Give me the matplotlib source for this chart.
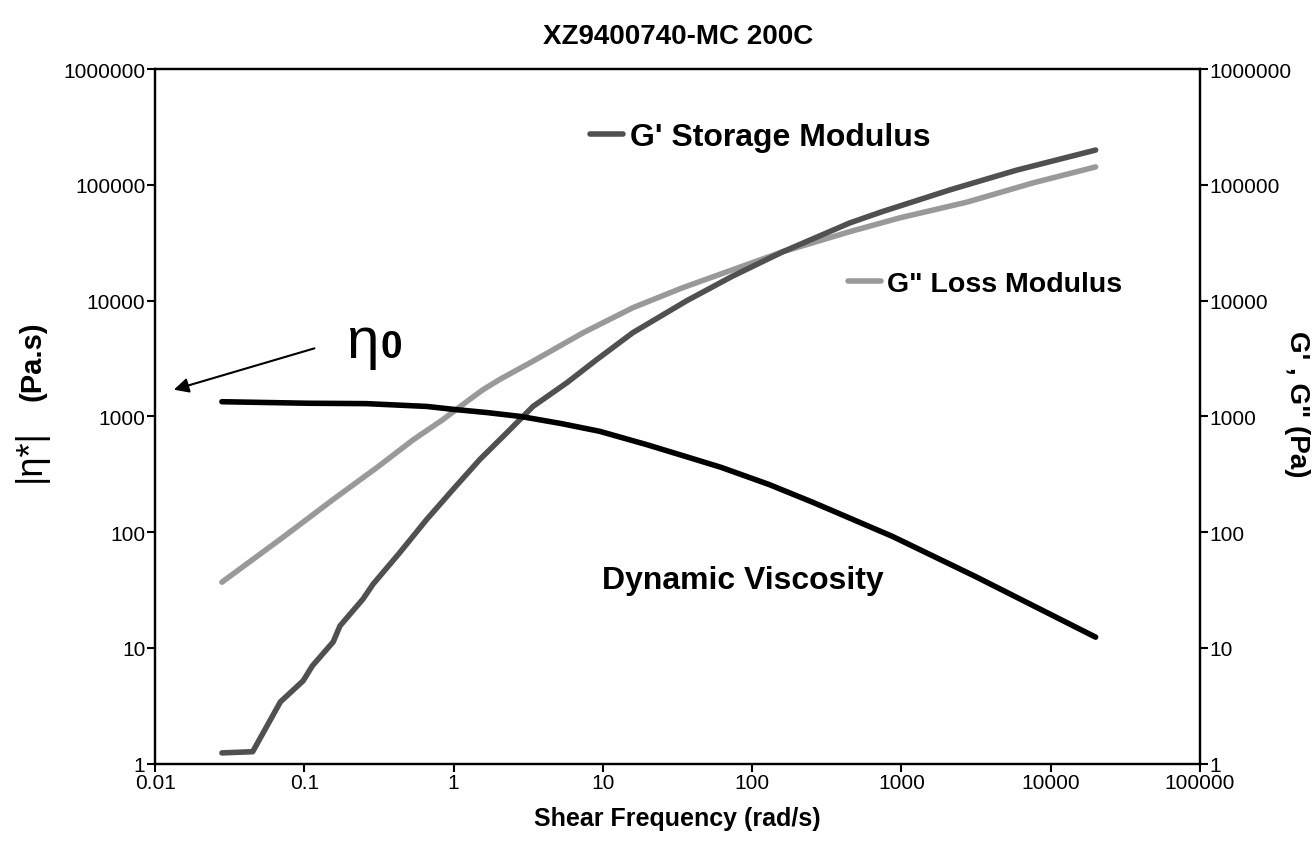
import matplotlib
matplotlib.use("Agg")
import matplotlib.pyplot as plt
from matplotlib.ticker import FixedLocator, FixedFormatter, NullLocator

plt.rcParams['font.family'] = ['Liberation Sans', 'DejaVu Sans']

# G' storage modulus (Pa)
freq_gp = [0.028, 0.045, 0.069, 0.098, 0.113, 0.156, 0.173, 0.247, 0.288, 0.437, 0.66, 0.99,
           1.5, 2.28, 3.4, 5.75, 9.1, 15.9, 36.5, 74, 161, 452, 751, 2110, 5900, 20000]
gp = [1.24, 1.27, 3.42, 5.2, 7.0, 11.3, 15.5, 26.5, 35.5, 67, 129, 234,
      426, 727, 1220, 1960, 3100, 5300, 10000, 16300, 26500, 47000, 59000, 90500, 134000, 200000]

# G" loss modulus (Pa)
freq_gpp = [0.028, 0.072, 0.156, 0.307, 0.537, 0.85, 1.23, 1.57, 2.04, 3.4, 7.4, 15.9,
            34, 74, 161, 452, 980, 2750, 7600, 20000]
gpp = [37, 90.6, 192, 363, 630, 942, 1350, 1700, 2090, 3000, 5300, 8700,
       12900, 18500, 26500, 39500, 52000, 71000, 104000, 143000]

# |eta*| dynamic viscosity (Pa.s)
freq_eta = [0.028, 0.105, 0.26, 0.66, 1.0, 1.67, 2.8, 5.2, 9.5, 19.7, 35, 62, 130, 258, 870, 3100, 20000]
eta = [1340, 1300, 1290, 1220, 1150, 1080, 1000, 870, 744, 570, 455, 363, 258, 180, 92, 41.7, 12.4]

ticks_y = [1, 10, 100, 1000, 10000, 100000, 1000000]
ticks_x = [0.01, 0.1, 1, 10, 100, 1000, 10000, 100000]
tick_labels_y = ["1", "10", "100", "1000", "10000", "100000", "1000000"]
tick_labels_x = ["0.01", "0.1", "1", "10", "100", "1000", "10000", "100000"]

c_gp = "#505050"
c_gpp = "#999999"

fig = plt.figure(figsize=(13.15, 8.45), dpi=100)
ax = fig.add_axes([0.118, 0.095, 0.7945, 0.822])
ax2 = ax.twinx()

ax.plot(freq_eta, eta, color="black", lw=4, solid_capstyle="round", zorder=3)
l_gp, = ax.plot(freq_gp, gp, color=c_gp, lw=4, solid_capstyle="round", zorder=2)
l_gpp, = ax.plot(freq_gpp, gpp, color=c_gpp, lw=4, solid_capstyle="round", zorder=1)

for a in (ax, ax2):
    a.set_xscale("log")
    a.set_yscale("log")
    a.set_xlim(0.01, 100000)
    a.set_ylim(1, 1000000)
    a.yaxis.set_major_locator(FixedLocator(ticks_y))
    a.yaxis.set_major_formatter(FixedFormatter(tick_labels_y))
    a.yaxis.set_minor_locator(NullLocator())
    for s in a.spines.values():
        s.set_linewidth(1.6)
ax.xaxis.set_major_locator(FixedLocator(ticks_x))
ax.xaxis.set_major_formatter(FixedFormatter(tick_labels_x))
ax.xaxis.set_minor_locator(NullLocator())
ax.tick_params(axis="both", direction="out", length=6, width=1.5, labelsize=15, pad=1)
ax2.tick_params(axis="y", direction="out", length=6, width=1.5, labelsize=15, pad=1)

fig.text(0.5155, 0.956, "XZ9400740-MC 200C", fontsize=20, fontweight="bold", ha="center", va="center")
ax.set_xlabel("Shear Frequency (rad/s)", fontsize=18, fontweight="bold", labelpad=10)

fig.text(0.023, 0.461, "|η*|", rotation=90, fontsize=26, ha="center", va="center")
fig.text(0.025, 0.573, "(Pa.s)", rotation=90, fontsize=21, fontweight="bold", ha="center", va="center")
fig.text(0.986, 0.522, "G' , G\" (Pa)", rotation=270, fontsize=20, fontweight="bold", ha="center", va="center")

# zero-shear viscosity marker
ax.annotate("", xy=(0.0128, 1675), xytext=(0.1216, 3935),
            arrowprops=dict(arrowstyle="-|>", color="black", lw=1.5, mutation_scale=22))
ax.text(0.19, 3230, "η", fontsize=42, ha="left", va="baseline")
ax.text(0.325, 3230, "0", fontsize=28, fontweight="bold", ha="left", va="baseline")

ax.text(9.9, 39, "Dynamic Viscosity", fontsize=23, fontweight="bold", ha="left", va="center")

leg1 = ax.legend([l_gp], ["G' Storage Modulus"], loc="center left", bbox_to_anchor=(0.416, 0.902),
                 frameon=False, handlelength=1.05, handletextpad=0.22, borderpad=0, borderaxespad=0,
                 prop={"size": 23, "weight": "bold"})
ax.add_artist(leg1)
ax.legend([l_gpp], ['G" Loss Modulus'], loc="center left", bbox_to_anchor=(0.663, 0.69),
          frameon=False, handlelength=1.15, handletextpad=0.23, borderpad=0, borderaxespad=0,
          prop={"size": 20.5, "weight": "bold"})

fig.savefig("out.png", dpi=100)
